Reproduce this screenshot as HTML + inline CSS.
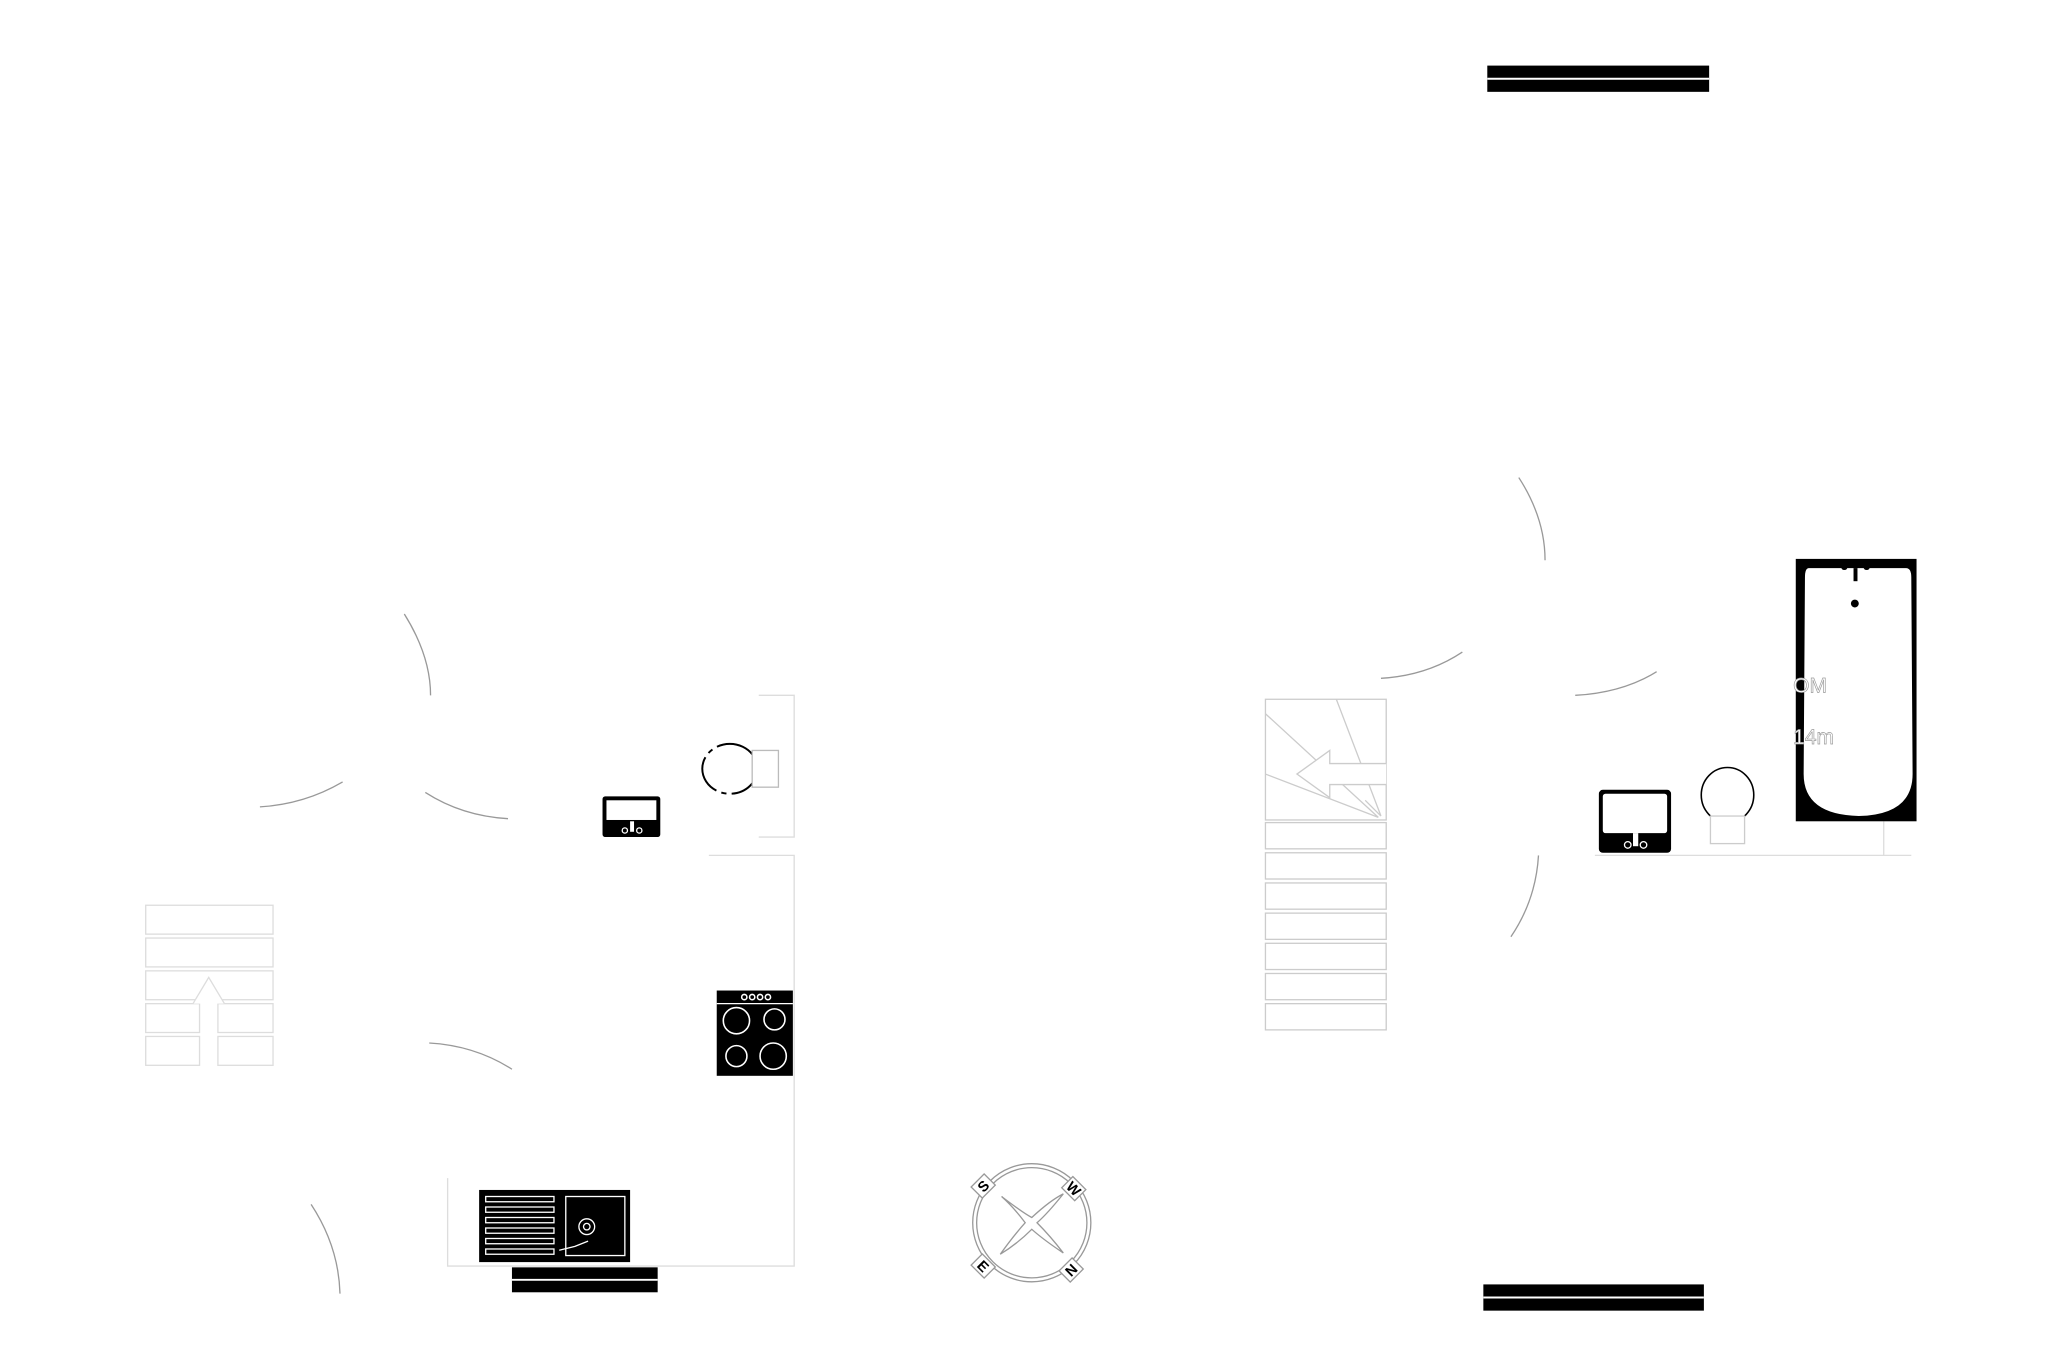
<!DOCTYPE html>
<html><head><style>html,body{margin:0;padding:0;background:#fff}svg{display:block}</style></head>
<body>
<svg width="2057" height="1371" viewBox="0 0 1567 1045" preserveAspectRatio="none" xmlns="http://www.w3.org/2000/svg" font-family="Liberation Sans, sans-serif">
<rect width="1567" height="1045" fill="#fff"/>
<!-- bars -->
<rect x="1133" y="50" width="169" height="20" fill="#000"/><line x1="1133" y1="60" x2="1302" y2="60" stroke="#fff" stroke-width="1.5"/>
<rect x="1130" y="979" width="168" height="20" fill="#000"/><line x1="1130" y1="989" x2="1298" y2="989" stroke="#fff" stroke-width="1.5"/>
<rect x="390" y="966" width="111" height="19" fill="#000"/><line x1="390" y1="975.5" x2="501" y2="975.5" stroke="#fff" stroke-width="1.5"/>
<!-- arcs -->
<g fill="none" stroke="#999" stroke-width="1">
<path d="M308 468 Q328 500 328 530"/>
<path d="M198 615 Q232 613 261 596"/>
<path d="M324 604 Q352 622 387 624"/>
<path d="M327 795 Q362 797 390 815"/>
<path d="M237 918 Q258 950 259 986"/>
<path d="M1157 364 Q1177 395 1177 427"/>
<path d="M1052 517 Q1087 515 1114 497"/>
<path d="M1200 530 Q1236 528 1262 512"/>
<path d="M1172 652 Q1170 686 1151 714"/>
</g>
<!-- kitchen walls -->
<g fill="none" stroke="#ddd" stroke-width="1">
<path d="M578 530 H605 V638 H578"/>
<path d="M540 652 H605 V965 H341 V898"/>
<path d="M1215 652 H1456 M1435 626 V652"/>
</g>
<!-- WC -->
<ellipse cx="556" cy="586" rx="21" ry="19" fill="#fff" stroke="#000" stroke-width="1.5" stroke-dasharray="30 4 4 4"/>
<rect x="573" y="572" width="20" height="28" fill="#fff" stroke="#bbb"/>
<!-- small basin -->
<rect x="459" y="607" width="44" height="31" rx="2" fill="#000"/>
<rect x="462" y="610" width="38" height="15" fill="#fff"/>
<rect x="480" y="626" width="3" height="8" fill="#fff"/>
<circle cx="476" cy="633" r="2" fill="none" stroke="#fff"/><circle cx="487" cy="633" r="2" fill="none" stroke="#fff"/>
<!-- oven -->
<rect x="546" y="755" width="58" height="65" fill="#000"/>
<line x1="546" y1="765" x2="604" y2="765" stroke="#fff"/>
<g fill="none" stroke="#fff" stroke-width="1.2">
<circle cx="567" cy="760" r="2"/><circle cx="573" cy="760" r="2"/><circle cx="579" cy="760" r="2"/><circle cx="585" cy="760" r="2"/>
<circle cx="561" cy="778" r="10"/><circle cx="590" cy="777" r="8"/><circle cx="561" cy="805" r="8"/><circle cx="589" cy="805" r="10"/>
</g>
<!-- sink -->
<rect x="365" y="907" width="115" height="55" fill="#000"/>
<g fill="none" stroke="#fff" stroke-width="1">
<rect x="370" y="912" width="52" height="4"/><rect x="370" y="920" width="52" height="4"/><rect x="370" y="928" width="52" height="4"/><rect x="370" y="936" width="52" height="4"/><rect x="370" y="944" width="52" height="4"/><rect x="370" y="952" width="52" height="4"/>
<rect x="431" y="912" width="45" height="45"/>
<circle cx="447" cy="935" r="6"/><circle cx="447" cy="935" r="2.5"/>
<path d="M426 953 L438 950 L448 946"/>
</g>
<!-- left stairs -->
<g fill="#fff" stroke="#ddd" stroke-width="1">
<rect x="111" y="690" width="97" height="22"/>
<rect x="111" y="715" width="97" height="22"/>
<rect x="111" y="740" width="97" height="22"/>
<rect x="111" y="765" width="41" height="22"/><rect x="166" y="765" width="42" height="22"/>
<rect x="111" y="790" width="41" height="22"/><rect x="166" y="790" width="42" height="22"/>
<path d="M147 765 L159 745 L171 765"/>
</g>
<!-- right stairs -->
<g fill="#fff" stroke="#ccc" stroke-width="1">
<rect x="964" y="533" width="92" height="92"/>
<path d="M964 544 L1050 623 M1018 533 L1052 622 M964 590 L1050 623 M1040 610 L1052 622"/>
<path d="M1056 598 H1013 V608 L988 590 L1013 572 V582 H1056"/>
<rect x="964" y="627" width="92" height="20"/>
<rect x="964" y="650" width="92" height="20"/>
<rect x="964" y="673" width="92" height="20"/>
<rect x="964" y="696" width="92" height="20"/>
<rect x="964" y="719" width="92" height="20"/>
<rect x="964" y="742" width="92" height="20"/>
<rect x="964" y="765" width="92" height="20"/>
</g>
<!-- bathroom basin -->
<rect x="1218" y="602" width="55" height="48" rx="3" fill="#000"/>
<rect x="1221" y="605" width="49" height="30" rx="2" fill="#fff"/>
<rect x="1244" y="635" width="4" height="10" fill="#fff"/>
<circle cx="1240" cy="644" r="2.5" fill="none" stroke="#fff"/><circle cx="1252" cy="644" r="2.5" fill="none" stroke="#fff"/>
<!-- toilet -->
<ellipse cx="1316" cy="606" rx="20" ry="21" fill="#fff" stroke="#000" stroke-width="1.2"/>
<rect x="1303" y="622" width="26" height="21" fill="#fff" stroke="#ccc"/>
<!-- bath -->
<rect x="1368" y="426" width="92" height="200" fill="#000"/>
<path d="M1378 433 H1452 Q1456 433 1456 440 L1457 590 Q1457 621 1416 622 Q1374 621 1374 590 L1375 440 Q1375 433 1378 433 Z" fill="#fff"/>
<rect x="1412" y="433" width="3" height="10" fill="#000"/>
<circle cx="1413" cy="460" r="3" fill="#000"/>
<circle cx="1405" cy="432" r="2.5" fill="#000"/><circle cx="1422" cy="432" r="2.5" fill="#000"/>
<text x="1366" y="528" font-size="16" fill="#fff" stroke="#999" stroke-width="0.5">OM</text>
<text x="1366" y="567" font-size="16" fill="#fff" stroke="#999" stroke-width="0.5">14m</text>
<!-- compass -->
<g fill="none" stroke="#999" stroke-width="1">
<circle cx="786" cy="932" r="45"/><circle cx="786" cy="932" r="42"/>
<path d="M763 912 Q780 925 786 928 Q800 915 810 910 Q798 925 790 932 Q800 942 810 955 Q795 945 786 937 Q775 948 762 956 Q772 942 781 932 Q772 920 763 912 Z"/>
</g>
<g fill="#fff" stroke="#999" stroke-width="1">
<rect x="742" y="898" width="14" height="12" transform="rotate(-45 749 904)"/>
<rect x="811" y="900" width="14" height="12" transform="rotate(45 818 906)"/>
<rect x="742" y="959" width="14" height="12" transform="rotate(45 749 965)"/>
<rect x="809" y="962" width="14" height="12" transform="rotate(-45 816 968)"/>
</g>
<g font-size="11" font-weight="bold" fill="#000" text-anchor="middle">
<text x="749" y="908" transform="rotate(-45 749 904)">S</text>
<text x="818" y="910" transform="rotate(45 818 906)">W</text>
<text x="749" y="969" transform="rotate(45 749 965)">E</text>
<text x="816" y="972" transform="rotate(-45 816 968)">N</text>
</g>
</svg>
</body></html>
